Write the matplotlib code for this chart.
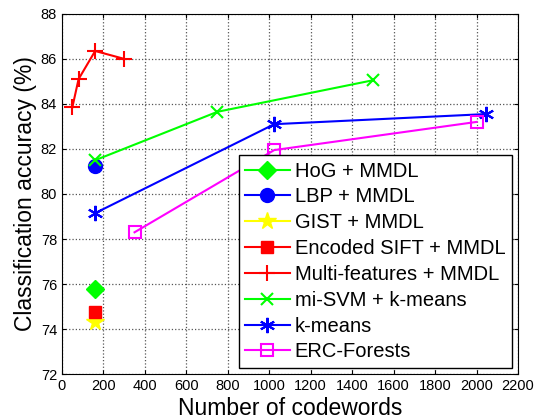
import matplotlib
matplotlib.use("Agg")
import matplotlib.pyplot as plt

plt.rcParams['font.family'] = ['Liberation Sans', 'DejaVu Sans']

hog_x = [160]; hog_y = [75.8]
lbp_x = [160]; lbp_y = [81.25]
gist_x = [160]; gist_y = [74.3]
sift_x = [160]; sift_y = [74.75]
multi_x = [50, 80, 160, 300]; multi_y = [83.85, 85.1, 86.35, 86.0]
misvm_x = [160, 750, 1500]; misvm_y = [81.5, 83.65, 85.05]
kmeans_x = [160, 1024, 2048]; kmeans_y = [79.15, 83.1, 83.55]
erc_x = [350, 1024, 2000]; erc_y = [78.3, 81.95, 83.2]

fig = plt.figure(figsize=(5.39, 4.19), dpi=100)
ax = fig.add_axes([0.115, 0.107, 0.846, 0.86])

ax.plot(hog_x, hog_y, color='#00ff00', marker='D', markersize=9, label='HoG + MMDL')
ax.plot(lbp_x, lbp_y, color='#0000ff', marker='o', markersize=10, label='LBP + MMDL')
ax.plot(gist_x, gist_y, color='#ffff00', marker='*', markersize=13, label='GIST + MMDL')
ax.plot(sift_x, sift_y, color='#ff0000', marker='s', markersize=9, label='Encoded SIFT + MMDL')
ax.plot(multi_x, multi_y, color='#ff0000', marker='+', markersize=11, mew=1.5, lw=1.5, label='Multi-features + MMDL')
ax.plot(misvm_x, misvm_y, color='#00ff00', marker='x', markersize=8, mew=1.5, lw=1.5, label='mi-SVM + k-means')
ax.plot(kmeans_x, kmeans_y, color='#0000ff', marker=(6, 2, 0), markersize=11, mew=1.5, lw=1.5, label='k-means')
ax.plot(erc_x, erc_y, color='#ff00ff', marker='s', markersize=9, mfc='none', mew=1.5, lw=1.5, label='ERC-Forests')

ax.set_xlim(0, 2200)
ax.set_ylim(72, 88)
ax.set_xticks(range(0, 2201, 200))
ax.set_yticks(range(72, 89, 2))
ax.tick_params(direction='in', top=True, right=True, labelsize=10.5, length=3)
ax.grid(True, linestyle=':', color='#555555', linewidth=0.9)
ax.set_xlabel('Number of codewords', fontsize=16.5, labelpad=3)
ax.set_ylabel('Classification accuracy (%)', fontsize=16.5, labelpad=3)
for s in ax.spines.values():
    s.set_linewidth(0.8)

leg = ax.legend(loc='lower right', bbox_to_anchor=(1.0, 0.0), fontsize=14.5,
                fancybox=False, edgecolor='black', framealpha=1,
                handlelength=2.2, borderpad=0.33, labelspacing=0.34, handletextpad=0.25,
                borderaxespad=0.3)
leg.get_frame().set_linewidth(1.0)

fig.savefig('out.png', dpi=100)
